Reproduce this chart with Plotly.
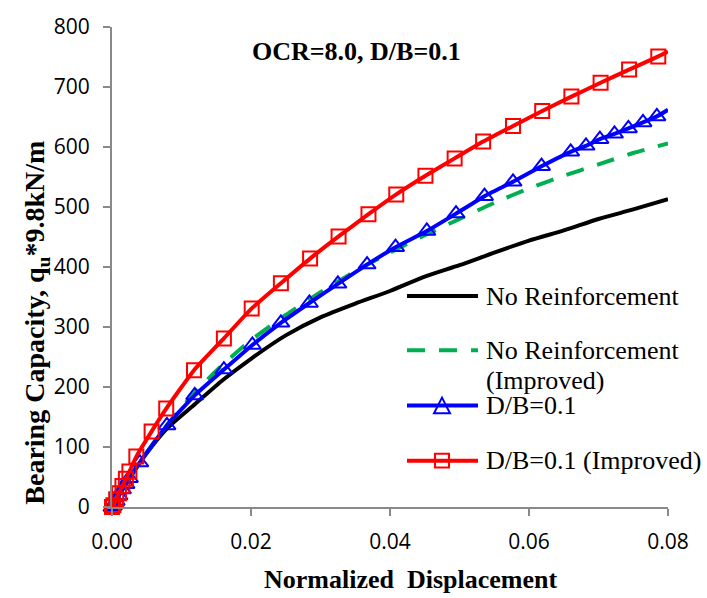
import plotly.graph_objects as go

# ---------------- data ----------------
black_x = [0, 0.001, 0.002, 0.004, 0.006, 0.008, 0.012, 0.016, 0.020, 0.025, 0.030,
           0.035, 0.040, 0.045, 0.050, 0.055, 0.060, 0.065, 0.070, 0.075, 0.080]
black_y = [0, 20, 38, 74, 105, 132, 172, 212, 247, 286, 316,
           339, 360, 384, 403, 424, 444, 461, 480, 496, 513]

green_x = [0, 0.002, 0.004, 0.008, 0.012, 0.016, 0.020, 0.025, 0.030, 0.035,
           0.040, 0.045, 0.050, 0.055, 0.060, 0.065, 0.070, 0.075, 0.080]
green_y = [0, 38, 75, 138, 192, 238, 278, 320, 358, 393,
           424, 453, 480, 507, 531, 552, 571, 590, 606]

blue_x = [0, 0.0002, 0.0006, 0.0010, 0.0015, 0.0020, 0.0025, 0.0040, 0.0079, 0.0119,
          0.0161, 0.0202, 0.0243, 0.0284, 0.0325, 0.0367, 0.0408, 0.0453, 0.0495, 0.0536,
          0.0577, 0.0618, 0.0660, 0.0682, 0.0702, 0.0723, 0.0743, 0.0764, 0.0784, 0.0800]
blue_y = [0, 2, 10, 19, 29, 38, 48, 74, 136, 186,
          229, 270, 307, 340, 372, 404, 433, 460, 489, 518,
          542, 568, 592, 602, 613, 622, 631, 641, 651, 662]

red_x = [0, 0.0002, 0.0006, 0.0010, 0.0015, 0.0020, 0.0025, 0.0035, 0.0057, 0.0078,
         0.0118, 0.0161, 0.0201, 0.0243, 0.0285, 0.0326, 0.0369, 0.0409, 0.0451, 0.0493,
         0.0534, 0.0577, 0.0619, 0.0661, 0.0703, 0.0744, 0.0786, 0.0800]
red_y = [0, 3, 13, 23, 35, 47, 59, 84, 126, 164,
         228, 281, 331, 373, 414, 451, 488, 521, 552, 581,
         609, 635, 660, 684, 707, 729, 751, 759]

x_ticks = [0, 0.02, 0.04, 0.06, 0.08]
x_tick_labels = ["0.00", "0.02", "0.04", "0.06", "0.08"]
y_ticks = [0, 100, 200, 300, 400, 500, 600, 700, 800]

legend_names = ["No Reinforcement", "No Reinforcement<br>(Improved)",
                "D/B=0.1", "D/B=0.1 (Improved)"]
title_text = "OCR=8.0, D/B=0.1"
x_title = "Normalized\u00a0 Displacement"
y_title = "Bearing Capacity, q<sub>u</sub>*9.8kN/m"

# ---------------- styling ----------------
W, H = 707, 598
L, R, T, B = 112, 668, 20, 507   # plot area in pixels
BLACK, GREEN, BLUE, RED = "#000000", "#00B050", "#0000FF", "#FF0000"
AXIS = "#898989"
SERIF = "Liberation Serif, Times New Roman, serif"
SANS = "Open Sans, sans-serif"
LW = 4


def px(xp):
    return (xp - L) / (R - L)


def py(yp):
    return (B - yp) / (B - T)


fig = go.Figure()
fig.add_trace(go.Scatter(x=black_x, y=black_y, mode="lines",
                         line=dict(color=BLACK, width=LW, shape="spline", smoothing=0.6),
                         showlegend=False))
fig.add_trace(go.Scatter(x=green_x, y=green_y, mode="lines",
                         line=dict(color=GREEN, width=LW, dash="18px,14px",
                                   shape="spline", smoothing=0.6),
                         showlegend=False))
fig.add_trace(go.Scatter(x=blue_x, y=blue_y, mode="lines",
                         line=dict(color=BLUE, width=LW, shape="spline", smoothing=0.4),
                         showlegend=False))
fig.add_trace(go.Scatter(x=blue_x[:-1], y=blue_y[:-1], mode="markers",
                         marker=dict(symbol="triangle-up-open", size=15, color=BLUE,
                                     line=dict(width=2, color=BLUE)),
                         cliponaxis=False, showlegend=False))
fig.add_trace(go.Scatter(x=red_x, y=red_y, mode="lines",
                         line=dict(color=RED, width=LW, shape="spline", smoothing=0.4),
                         showlegend=False))
fig.add_trace(go.Scatter(x=red_x[:-1], y=red_y[:-1], mode="markers",
                         marker=dict(symbol="square-open", size=14, color=RED,
                                     line=dict(width=2, color=RED)),
                         cliponaxis=False, showlegend=False))

# ---------------- custom legend (Excel-like, inside the plot) ----------------
rows = [293, 348, 404, 460]
colors = [BLACK, GREEN, BLUE, RED]
dashes = ["solid", "18px,14px", "solid", "solid"]
LINE_GAP = 31
shapes = []
annotations = []
for name, c, d, ry in zip(legend_names, colors, dashes, rows):
    shapes.append(dict(type="line", xref="paper", yref="paper",
                       x0=px(407), x1=px(478), y0=py(ry), y1=py(ry),
                       line=dict(color=c, width=LW, dash=d)))
    for k, part in enumerate(name.split("<br>")):
        annotations.append(dict(xref="paper", yref="paper", x=px(484),
                                y=py(ry + k * LINE_GAP),
                                xanchor="left", yanchor="middle",
                                text=part, showarrow=False, align="left",
                                font=dict(family=SERIF, size=26, color="black")))
# legend markers
cx = 442
ty = rows[2]
shapes.append(dict(type="path", xref="paper", yref="paper",
                   path="M {:.5f},{:.5f} L {:.5f},{:.5f} L {:.5f},{:.5f} Z".format(
                       px(cx - 8), py(ty + 8), px(cx + 8), py(ty + 8), px(cx), py(ty - 8)),
                   line=dict(color=BLUE, width=2), fillcolor="rgba(0,0,0,0)"))
sy = rows[3]
shapes.append(dict(type="rect", xref="paper", yref="paper",
                   x0=px(cx - 7), x1=px(cx + 7), y0=py(sy + 7), y1=py(sy - 7),
                   line=dict(color=RED, width=2), fillcolor="rgba(0,0,0,0)"))

# titles
annotations.append(dict(xref="paper", yref="paper", x=px(356), y=py(45),
                        xanchor="center", yanchor="middle", showarrow=False,
                        text="<b>" + title_text + "</b>",
                        font=dict(family=SERIF, size=26, color="black")))
annotations.append(dict(xref="paper", yref="paper", x=px(411), y=py(581),
                        xanchor="center", yanchor="middle", showarrow=False,
                        text="<b>" + x_title + "</b>",
                        font=dict(family=SERIF, size=26, color="black")))
annotations.append(dict(xref="paper", yref="paper", x=px(37), y=py(320),
                        xanchor="center", yanchor="middle", showarrow=False,
                        textangle=-90, text="<b>" + y_title + "</b>",
                        font=dict(family=SERIF, size=28, color="black")))

fig.update_layout(
    width=W, height=H,
    margin=dict(l=L, r=W - R, t=T, b=H - B, pad=0),
    paper_bgcolor="white", plot_bgcolor="white",
    showlegend=False,
    shapes=shapes, annotations=annotations,
    xaxis=dict(range=[0, 0.08], tickvals=x_ticks, ticktext=x_tick_labels,
               showgrid=False, zeroline=False, showline=True, linecolor=AXIS,
               linewidth=2, ticks="outside", ticklen=7, tickwidth=2, tickcolor=AXIS,
               tickfont=dict(family=SANS, size=21, color="black"),
               ticklabelstandoff=8),
    yaxis=dict(range=[0, 800], tickvals=y_ticks,
               showgrid=False, zeroline=False, showline=True, linecolor=AXIS,
               linewidth=2, ticks="outside", ticklen=7, tickwidth=2, tickcolor=AXIS,
               tickfont=dict(family=SANS, size=21, color="black"),
               ticklabelstandoff=9),
)

fig.write_html("out.html")
